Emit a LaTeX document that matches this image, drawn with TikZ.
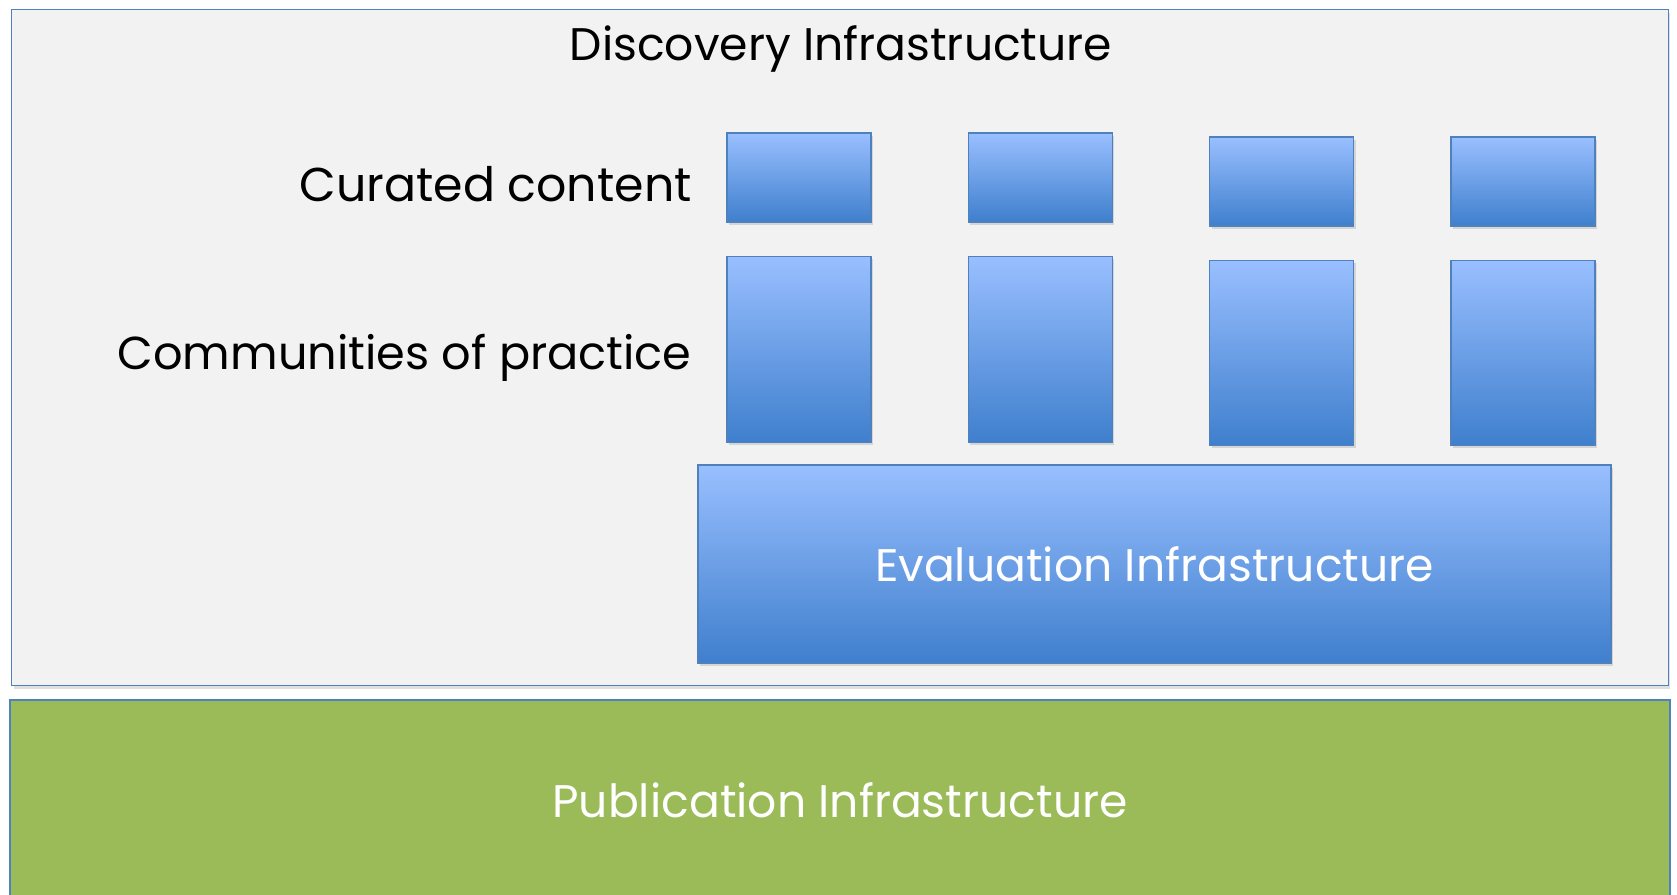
\documentclass[tikz,border=0pt]{standalone}
\usepackage{fontspec}
\setmainfont{Poppins}
\usetikzlibrary{positioning,shadows}

\definecolor{frameblue}{HTML}{4F81BD}
\definecolor{boxtop}{HTML}{99BFFF}
\definecolor{boxbottom}{HTML}{3F7FCD}
\definecolor{panelgray}{HTML}{F2F2F2}
\definecolor{pubgreen}{HTML}{9BBB59}

\begin{document}
\begin{tikzpicture}[
	x=0.02cm,y=-0.02cm,
	node distance=0.66cm and 1.92cm,
	panel/.style={draw=frameblue,line width=0.8pt,fill=panelgray,
		drop shadow={opacity=0.25,shadow xshift=0.04cm,shadow yshift=-0.06cm}},
	bluebox/.style={draw=frameblue,line width=0.8pt,top color=boxtop,bottom color=boxbottom,
		inner sep=0pt,minimum width=2.88cm,
		drop shadow={opacity=0.25,shadow xshift=0.04cm,shadow yshift=-0.06cm}},
	rowlabel/.style={anchor=east,font=\fontsize{27}{32}\selectfont,inner sep=0pt}
	]
	\useasboundingbox (0,0) rectangle (1677,895);
	% outer frame and base layer
	\node[panel,anchor=north west,minimum width=33.14cm,minimum height=13.52cm] (disc) at (11,9) {};
	\node[draw=frameblue,line width=0.8pt,fill=pubgreen,minimum width=33.2cm,minimum height=4cm,
		text=white,font=\fontsize{26}{31}\selectfont] (pub) at (840,800) {Publication Infrastructure};
	\node[font=\fontsize{26}{31}\selectfont] (disctitle) at (841,49) {Discovery Infrastructure};
	% curated content row
	\node[bluebox,minimum height=1.78cm] (cur1) at (799,177.5) {};
	\node[bluebox,minimum height=1.78cm,right=of cur1] (cur2) {};
	\node[bluebox,minimum height=1.78cm,right=of cur2,yshift=-0.08cm] (cur3) {};
	\node[bluebox,minimum height=1.78cm,right=of cur3] (cur4) {};
	% communities of practice row
	\node[bluebox,minimum height=3.72cm,below=of cur1] (com1) {};
	\node[bluebox,minimum height=3.72cm,below=of cur2] (com2) {};
	\node[bluebox,minimum height=3.70cm,below=of cur3] (com3) {};
	\node[bluebox,minimum height=3.70cm,below=of cur4] (com4) {};
	\node[bluebox,minimum width=18.26cm,minimum height=3.96cm,text=white,
		font=\fontsize{26}{31}\selectfont] (eval) at (1154.5,564) {Evaluation Infrastructure};
	% row labels
	\node[rowlabel] (curlabel) at (692,184) {Curated content};
	\node[rowlabel,font=\fontsize{26.3}{31}\selectfont] (comlabel) at (692,358) {Communities of practice};
\end{tikzpicture}
\end{document}
